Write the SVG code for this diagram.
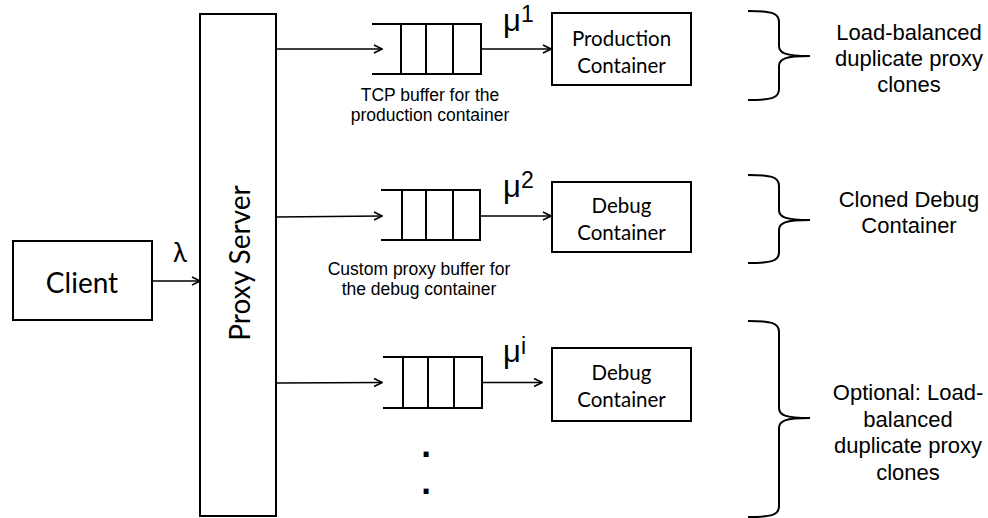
<svg xmlns="http://www.w3.org/2000/svg" width="988" height="518" viewBox="0 0 988 518">
<defs>
<marker id="arr" viewBox="0 0 10 10" refX="9" refY="5" markerWidth="10" markerHeight="10" markerUnits="userSpaceOnUse" orient="auto">
<polyline points="1,1 9,5 1,9" fill="none" stroke="#000" stroke-width="1.6"/>
</marker>
</defs>
<style>
.box{fill:#fff;stroke:#000;stroke-width:2}
.q{fill:none;stroke:#000;stroke-width:2}
.c{fill:none;stroke:#000;stroke-width:1.6;marker-end:url(#arr)}
.br{fill:none;stroke:#000;stroke-width:2}
.lato{font-family:Lato,"Open Sans",sans-serif;fill:#000}
.ar{font-family:"Liberation Sans",Arial,sans-serif;fill:#000}
.dot{font-family:"DejaVu Sans",sans-serif;font-weight:bold;fill:#000}
</style>
<rect width="988" height="518" fill="#fff"/>
<g id="client">
<rect class="box" x="13" y="241" width="139" height="79"/>
<text class="lato" x="82" y="293" font-size="28" text-anchor="middle">Client</text>
</g>
<g id="proxy">
<rect class="box" x="200" y="14" width="76" height="502"/>
<text class="lato" transform="translate(250,263) rotate(-90)" font-size="28" text-anchor="middle">Proxy Server</text>
</g>
<g id="queue1">
<path class="q" d="M372,24 H481 V74 H372 M401,24 V74 M426,24 V74 M453,24 V74"/>
</g>
<g id="queue2">
<path class="q" d="M381,190 H480 V240 H381 M402,190 V240 M426,190 V240 M453,190 V240"/>
</g>
<g id="queue3">
<path class="q" d="M383,357 H482 V408 H383 M403,357 V408 M428,357 V408 M454,357 V408"/>
</g>
<g id="prod">
<rect class="box" x="552" y="13" width="139" height="72"/>
<text class="lato" x="621.5" y="45.5" font-size="20.5" text-anchor="middle">Production</text>
<text class="lato" x="621.5" y="72.5" font-size="20.5" text-anchor="middle">Container</text>
</g>
<g id="debug1">
<rect class="box" x="552" y="182" width="139" height="70"/>
<text class="lato" x="621.5" y="213" font-size="20.5" text-anchor="middle">Debug</text>
<text class="lato" x="621.5" y="240" font-size="20.5" text-anchor="middle">Container</text>
</g>
<g id="debug2">
<rect class="box" x="552" y="348" width="139" height="73"/>
<text class="lato" x="621.5" y="380" font-size="20.5" text-anchor="middle">Debug</text>
<text class="lato" x="621.5" y="407" font-size="20.5" text-anchor="middle">Container</text>
</g>
<g id="connectors">
<line class="c" x1="152" y1="281" x2="200" y2="281"/>
<line class="c" x1="276" y1="49" x2="382" y2="49"/>
<line class="c" x1="276" y1="217" x2="382" y2="216"/>
<line class="c" x1="276" y1="383" x2="382" y2="382.5"/>
<line class="c" x1="481" y1="49" x2="551" y2="49"/>
<line class="c" x1="480" y1="216" x2="551" y2="216"/>
<line class="c" x1="482" y1="382.5" x2="542" y2="382.5"/>
</g>
<g id="labels">
<text class="lato" x="180" y="262" font-size="26" text-anchor="middle">λ</text>
<text class="ar" x="503" y="31" font-size="31">μ<tspan font-size="23" dy="-9">1</tspan></text>
<text class="ar" x="503" y="197" font-size="31">μ<tspan font-size="23" dy="-9">2</tspan></text>
<text class="ar" x="503" y="362" font-size="31">μ<tspan font-size="23" dy="-8">i</tspan></text>
<text class="ar" x="430" y="101" font-size="17.5" text-anchor="middle">TCP buffer for the</text>
<text class="ar" x="430" y="121" font-size="17.5" text-anchor="middle">production container</text>
<text class="ar" x="419" y="275" font-size="17.5" text-anchor="middle">Custom proxy buffer for</text>
<text class="ar" x="419" y="295" font-size="17.5" text-anchor="middle">the debug container</text>
<text class="dot" x="426" y="457" font-size="28" text-anchor="middle">.</text>
<text class="dot" x="426" y="494" font-size="28" text-anchor="middle">.</text>
</g>
<g id="brace1">
<path class="br" d="M748,11 C772,11 779,13 779,22 L779,46 C779,53 785,56 810,56 C785,56 779,59 779,66 L779,89 C779,98 772,100 748,100"/>
<text class="ar" x="909" y="40" font-size="22" text-anchor="middle">Load-balanced</text>
<text class="ar" x="909" y="66" font-size="22" text-anchor="middle">duplicate proxy</text>
<text class="ar" x="909" y="92" font-size="22" text-anchor="middle">clones</text>
</g>
<g id="brace2">
<path class="br" d="M748,175 C772,175 779,177 779,186 L779,210 C779,217 785,220 810,220 C785,220 779,223 779,230 L779,252 C779,261 772,263 748,263"/>
<text class="ar" x="909" y="207" font-size="22" text-anchor="middle">Cloned Debug</text>
<text class="ar" x="909" y="233" font-size="22" text-anchor="middle">Container</text>
</g>
<g id="brace3">
<path class="br" d="M748,321 C772,321 779,323 779,332 L779,408 C779,415 785,418 810,418 C785,418 779,421 779,428 L779,506 C779,515 772,517 748,517"/>
<text class="ar" x="908" y="400" font-size="22" text-anchor="middle">Optional: Load-</text>
<text class="ar" x="908" y="426.5" font-size="22" text-anchor="middle">balanced</text>
<text class="ar" x="908" y="453" font-size="22" text-anchor="middle">duplicate proxy</text>
<text class="ar" x="908" y="479.5" font-size="22" text-anchor="middle">clones</text>
</g>
</svg>
